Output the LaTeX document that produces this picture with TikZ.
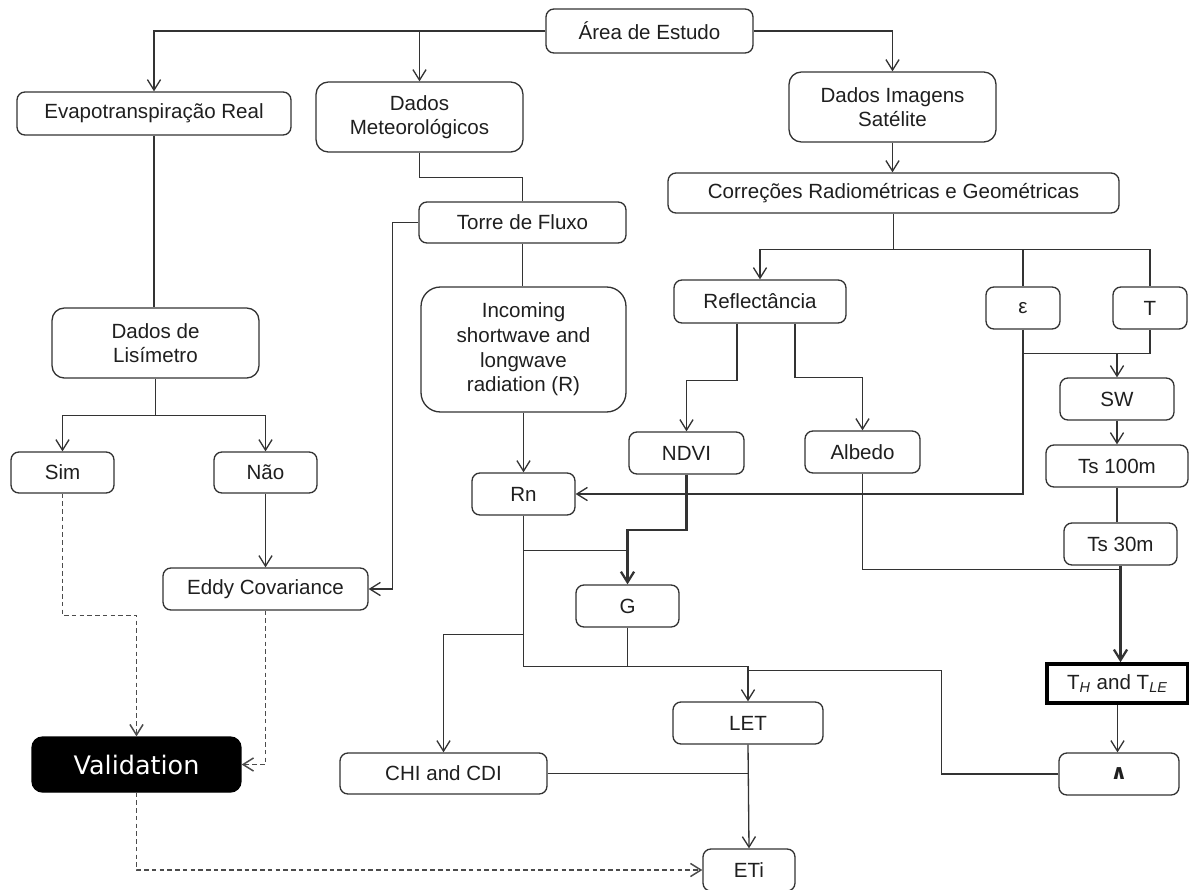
\documentclass[tikz,border=0pt]{standalone}
\usepackage{fontspec}
\setmainfont{Liberation Sans}
\newfontfamily\valfont{DejaVu Sans}
\usepackage{xcolor}
\usepackage{tikz}
\usetikzlibrary{arrows.meta, positioning}
\tikzset{
  box/.style={rectangle, draw=black!80, line width=0.75pt, rounded corners=4.5pt,
              fill=white, inner sep=0pt, align=center, minimum height=0.84cm,
              text=black!88, font=\fontsize{11.7}{14}\selectfont},
  tallbox/.style={box, rounded corners=7pt, minimum width=4.14cm, minimum height=1.4cm},
  valbox/.style={box, fill=black, draw=black, rounded corners=6pt, text=white,
                 font=\valfont\fontsize{14.5}{17}\selectfont},
  boldbox/.style={box, rounded corners=0pt, line width=2pt, draw=black},
  wire/.style={line width=0.75pt, draw=black!80},
  arrow/.style={wire, -{Straight Barb[length=6pt,width=7.5pt]}},
  heavyarrow/.style={arrow, line width=1.3pt},
  dasharrow/.style={arrow, draw=black!70, line width=0.85pt, dash pattern=on 2.6pt off 1.8pt}
}

\begin{document}
\begin{tikzpicture}[x=0.02cm, y=-0.02cm]
  \useasboundingbox (0,0) rectangle (1189,889);

  % Top
  \node[box, minimum width=4.14cm, minimum height=0.88cm] (area) at (649.5,31) {Área de Estudo};
  \node[box, minimum width=5.48cm, minimum height=0.86cm] (evap) at (154,113.5) {Evapotranspiração Real};
  \node[tallbox] (dmet) at (419.5,117) {Dados\\Meteorológicos};
  \node[tallbox] (dimg) at (892.5,107) {Dados Imagens\\Satélite};
  \node[box, minimum width=9.02cm, minimum height=0.8cm] (corr) at (893.5,193) {Correções Radiométricas e Geométricas};

  \draw[arrow] (area.west) -| (evap.north);
  \draw[arrow] (dmet.north |- area.west) -- (dmet.north);
  \draw[arrow] (area.east) -| (dimg.north);
  \draw[arrow] (dimg.south) -- (dimg.south |- corr.north);

  % Meteorological data
  \node[box, minimum width=4.14cm, minimum height=0.82cm] (torre) at (522.5,222.5) {Torre de Fluxo};
  \node[box, minimum width=4.1cm, minimum height=2.5cm, rounded corners=11pt] (incoming) at (523.5,349.5)
    {Incoming\\shortwave and\\longwave\\radiation (R)};
  \node[box, minimum width=2.06cm] (rn) at (523.5,494) {Rn};

  \draw[wire] (dmet.south) -- ++(0,25) -| (torre.north);
  \draw[wire] (torre.south) -- (torre.south |- incoming.north);
  \draw[arrow] (incoming.south) -- (incoming.south |- rn.north);

  % Lysimeter branch
  \node[tallbox] (lisi) at (155.5,343) {Dados de\\Lisímetro};
  \node[box, minimum width=2.06cm, minimum height=0.82cm] (sim) at (62.5,472.5) {Sim};
  \node[box, minimum width=2.06cm, minimum height=0.82cm] (nao) at (265.5,472.5) {Não};
  \node[box, minimum width=4.1cm] (eddy) at (265.5,589) {Eddy Covariance};
  \node[valbox, minimum width=4.18cm, minimum height=1.1cm] (val) at (136.5,764.5) {Validation};

  \draw[wire] (evap.south) -- (evap.south |- lisi.north);
  \path (lisi.south) ++(0,37) coordinate (lisiJ);
  \draw[wire] (lisi.south) -- (lisiJ);
  \draw[arrow] (lisiJ) -| (sim.north);
  \draw[arrow] (lisiJ) -| (nao.north);
  \draw[arrow] (nao.south) -- (eddy.north);
  \draw[arrow] (torre.west) -- ++(-26,0) |- (eddy.east);

  \draw[dasharrow] (sim.south) -- ++(0,122) -| (val.north);
  \draw[dasharrow] (eddy.south) |- (val.east);

  % Satellite branch
  \node[box, minimum width=3.44cm, minimum height=0.86cm] (refl) at (760,301.5) {Reflectância};
  \node[box, minimum width=1.48cm] (eps) at (1023,308) {ε};
  \node[box, minimum width=1.48cm] (tnode) at (1150,308) {T};
  \node[box, minimum width=2.28cm] (sw) at (1117,399) {SW};
  \node[box, minimum width=2.3cm] (ndvi) at (686.5,453) {NDVI};
  \node[box, minimum width=2.3cm] (albedo) at (862.5,452) {Albedo};
  \node[box, minimum width=2.84cm] (ts100) at (1117,466) {Ts 100m};
  \node[box, minimum width=2.26cm] (ts30) at (1120.5,544) {Ts 30m};
  \node[boldbox, minimum width=2.82cm, minimum height=0.78cm] (thle) at (1117.5,683.5)
    {T\textsubscript{\textit{H}} and T\textsubscript{\textit{LE}}};
  \node[box, minimum width=2.4cm] (lam) at (1119,774) {\valfont\bfseries ∧};

  \path (corr.south) ++(0,36) coordinate (corrJ);
  \draw[arrow] (corr.south) -- (corrJ) -| (refl.north);
  \draw[wire] (corrJ) -| (tnode.north);
  \draw[wire] (eps.north) -- (eps.north |- corrJ);

  \path (eps.south) ++(0,24) coordinate (epsJ);
  \draw[wire] (epsJ) -| (tnode.south);
  \draw[arrow] (sw.north |- epsJ) -- (sw.north);
  \draw[arrow] (eps.south) |- (rn.east);

  \draw[arrow] ([xshift=-0.46cm]refl.south) -- ++(0,57) -| (ndvi.north);
  \draw[arrow] ([xshift=0.7cm]refl.south) -- ++(0,54) -| (albedo.north);

  \draw[arrow] (sw.south) -- (sw.south |- ts100.north);
  \draw[wire] (ts100.south) -- (ts100.south |- ts30.north);
  \draw[wire] (albedo.south) -- ++(0,96) -| (ts30.south);
  \draw[heavyarrow] (ts30.south) -- (ts30.south |- thle.north);
  \draw[arrow] (thle.south) -- (thle.south |- lam.north);

  % Energy balance
  \node[box, minimum width=2.06cm] (g) at (627.5,606) {G};
  \node[box, minimum width=3cm] (let) at (748,723) {LET};
  \node[box, minimum width=4.14cm, minimum height=0.82cm] (chi) at (443.5,773.5) {CHI and CDI};
  \node[box, minimum width=1.84cm] (eti) at (749,870) {ETi};

  \draw[wire] (rn.south) -- ++(0,35) -| (g.north);
  \draw[heavyarrow] (ndvi.south) -- ++(0,55) -| (g.north);
  \draw[arrow] (rn.south) -- ++(0,119) -| (chi.north);
  \path (rn.south) ++(0,151) coordinate (letJ);
  \draw[arrow] (rn.south) -- (letJ) -| (let.north);
  \draw[wire] (g.south) -- (g.south |- letJ);
  \draw[wire] (lam.west) -- ++(-117,0) |- ([yshift=0.62cm]let.north);

  \draw[arrow] (let.south) -- (eti.north);
  \draw[wire] (chi.east) -- (let.south |- chi.east);
  \draw[dasharrow] (val.south) |- (eti.west);
\end{tikzpicture}
\end{document}
